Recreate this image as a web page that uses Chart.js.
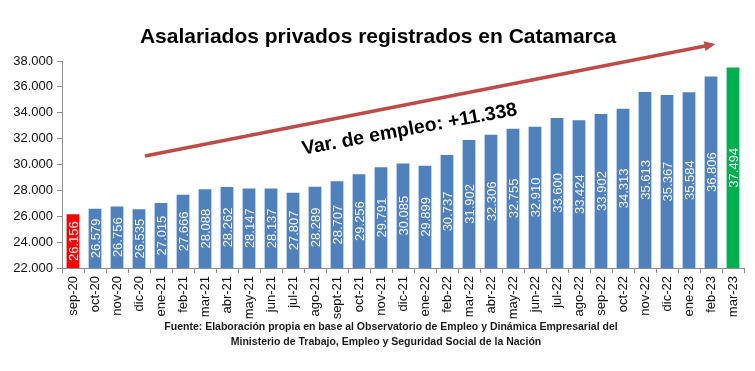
<!DOCTYPE html>
<html>
<head>
<meta charset="utf-8">
<script src="https://cdn.jsdelivr.net/npm/chart.js@4.4.1/dist/chart.umd.min.js"></script>
<style>
  html, body { margin: 0; padding: 0; background: #fff; }
  #wrap { width: 755px; height: 371px; position: relative; }
</style>
</head>
<body>
<div id="wrap"><canvas id="chart" width="755" height="371"></canvas></div>
<script>
'use strict';

/* ====== datos ====== */
const meses = ['sep-20', 'oct-20', 'nov-20', 'dic-20', 'ene-21', 'feb-21', 'mar-21', 'abr-21', 'may-21', 'jun-21',
  'jul-21', 'ago-21', 'sept-21', 'oct-21', 'nov-21', 'dic-21', 'ene-22', 'feb-22', 'mar-22', 'abr-22', 'may-22',
  'jun-22', 'jul-22', 'ago-22', 'sep-22', 'oct-22', 'nov-22', 'dic-22', 'ene-23', 'feb-23', 'mar-23'];
const asalariados = [26156, 26579, 26756, 26535, 27015, 27666, 28088, 28262, 28147, 28137,
  27807, 28289, 28707, 29256, 29791, 30085, 29899, 30737, 31902, 32306, 32755,
  32910, 33600, 33424, 33902, 34313, 35613, 35367, 35584, 36806, 37494];
const ejeY = { min: 22000, max: 38000, paso: 2000 };
const titulo = 'Asalariados privados registrados en Catamarca';
const variacion = 'Var. de empleo: +11.338';
const fuente = ['Fuente: Elaboración propia en base al Observatorio de Empleo y Dinámica Empresarial del',
  'Ministerio de Trabajo, Empleo y Seguridad Social de la Nación'];
// flecha: [índice de categoría, valor] inicio y fin
const flecha = { desde: [3.27, 30660], hasta: [29.2, 39320] };
const posTexto = [15.3, 32700];

const AZUL = '#4F81BD', ROJO = '#FF0000', VERDE = '#00B050', FLECHA = '#BE4B48';
const FONT = "'Liberation Sans', Arial, sans-serif";

const fmt = v => v.toLocaleString('de-DE');

const colores = asalariados.map((v, i) => i === 0 ? ROJO : (i === asalariados.length - 1 ? VERDE : AZUL));

// etiquetas de valores, titulo, flecha y fuente
const decoraciones = {
  id: 'decoraciones',
  afterDatasetsDraw(chart) {
    const { ctx, chartArea } = chart;
    const meta = chart.getDatasetMeta(0);
    ctx.save();
    ctx.font = '13px ' + FONT;
    ctx.fillStyle = '#F4F7FB';
    ctx.textAlign = 'center';
    ctx.textBaseline = 'middle';
    meta.data.forEach((bar, i) => {
      // las barras parten de 0 y se recortan en el borde del área
      const base = Math.min(bar.base, chartArea.bottom);
      const y = (bar.y + base) / 2;
      ctx.save();
      ctx.translate(bar.x, y);
      ctx.rotate(-Math.PI / 2);
      ctx.fillText(fmt(asalariados[i]), 0, 1);
      ctx.restore();
    });
    ctx.restore();
  },
  afterDraw(chart) {
    const { ctx } = chart;
    const xs = chart.scales.x, ys = chart.scales.y;
    ctx.save();

    // titulo
    ctx.fillStyle = '#000';
    ctx.font = 'bold 21px ' + FONT;
    ctx.textAlign = 'center';
    ctx.textBaseline = 'middle';
    ctx.fillText(titulo, 378, 37);

    // flecha
    const x1 = xs.getPixelForValue(flecha.desde[0]), y1 = ys.getPixelForValue(flecha.desde[1]);
    const x2 = xs.getPixelForValue(flecha.hasta[0]), y2 = ys.getPixelForValue(flecha.hasta[1]);
    const ang = Math.atan2(y2 - y1, x2 - x1);
    ctx.strokeStyle = FLECHA;
    ctx.fillStyle = FLECHA;
    ctx.lineWidth = 3.5;
    ctx.beginPath();
    ctx.moveTo(x1, y1);
    ctx.lineTo(x2 - 8 * Math.cos(ang), y2 - 8 * Math.sin(ang));
    ctx.stroke();
    ctx.save();
    ctx.translate(x2, y2);
    ctx.rotate(ang);
    ctx.beginPath();
    ctx.moveTo(0, 0);
    ctx.lineTo(-11, -5);
    ctx.lineTo(-11, 5);
    ctx.closePath();
    ctx.fill();
    ctx.restore();

    // texto de la variación
    ctx.save();
    ctx.translate(xs.getPixelForValue(posTexto[0]), ys.getPixelForValue(posTexto[1]));
    ctx.rotate(-10.5 * Math.PI / 180);
    ctx.fillStyle = '#000';
    ctx.font = 'bold 19.5px ' + FONT;
    ctx.fillText(variacion, 0, 0);
    ctx.restore();

    // fuente
    ctx.fillStyle = '#1a1a1a';
    ctx.font = 'bold 10.5px ' + FONT;
    ctx.fillText(fuente[0], 391, 327);
    ctx.fillText(fuente[1], 386, 342);
    ctx.restore();
  }
};

new Chart(document.getElementById('chart'), {
  type: 'bar',
  data: {
    labels: meses,
    datasets: [{
      data: asalariados,
      backgroundColor: colores,
      borderWidth: 0,
      categoryPercentage: 1,
      barPercentage: 0.58
    }]
  },
  options: {
    responsive: false,
    animation: false,
    layout: { padding: { top: 61, right: 11, bottom: 0, left: 0 } },
    plugins: {
      legend: { display: false },
      tooltip: { enabled: false }
    },
    scales: {
      x: {
        grid: { offset: true, drawOnChartArea: false, color: '#8C8C8C', tickLength: 5 },
        border: { color: '#8C8C8C' },
        ticks: {
          minRotation: 90, maxRotation: 90, autoSkip: false, padding: 3,
          color: '#111', font: { family: FONT, size: 13 }
        },
        afterFit(scale) { scale.height = 103; }
      },
      y: {
        min: ejeY.min, max: ejeY.max,
        grid: { drawOnChartArea: false, color: '#8C8C8C', tickLength: 5 },
        border: { color: '#8C8C8C' },
        ticks: {
          stepSize: ejeY.paso, padding: 4,
          color: '#111', font: { family: FONT, size: 13 },
          callback: v => fmt(v)
        },
        afterFit(scale) { scale.width = 62; }
      }
    }
  },
  plugins: [decoraciones]
});
</script>
</body>
</html>
